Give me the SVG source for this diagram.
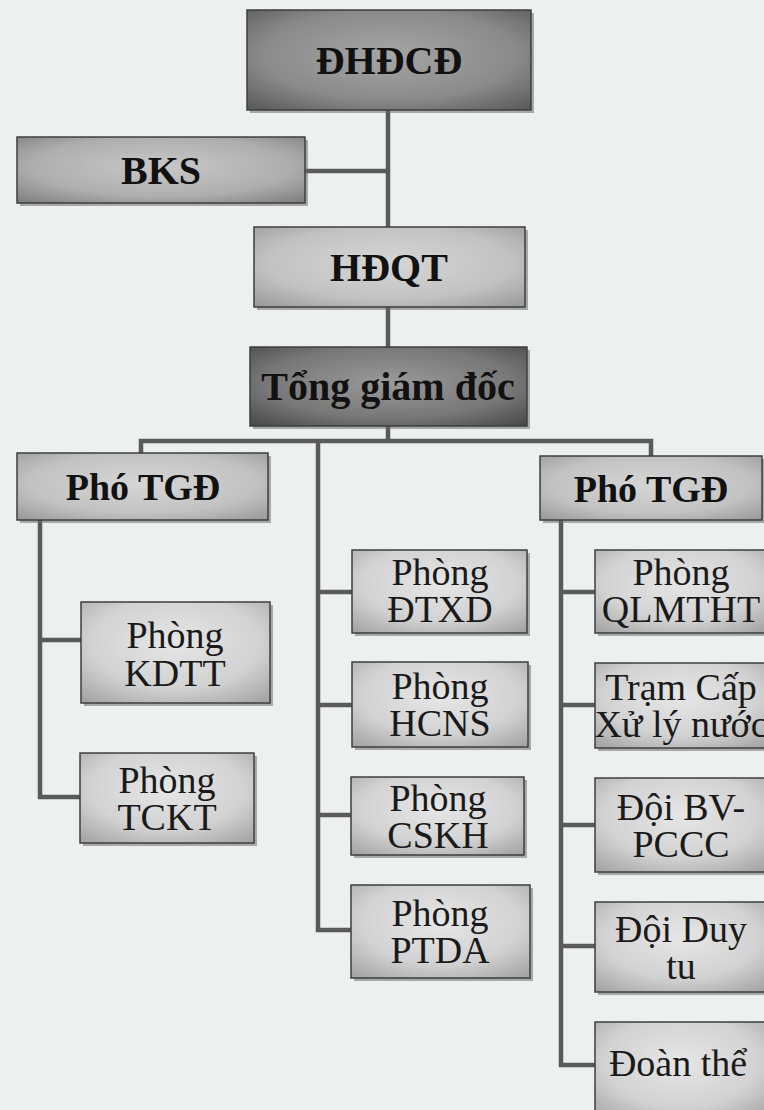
<svg xmlns="http://www.w3.org/2000/svg" width="764" height="1110" viewBox="0 0 764 1110">
<defs>
<radialGradient id="gDark" cx="0.5" cy="0.45" r="0.75">
<stop offset="0" stop-color="#a6a6a6"/><stop offset="0.6" stop-color="#8a8a8a"/><stop offset="1" stop-color="#555"/>
</radialGradient>
<radialGradient id="gDarker" cx="0.5" cy="0.45" r="0.75">
<stop offset="0" stop-color="#9a9a9a"/><stop offset="0.6" stop-color="#777"/><stop offset="1" stop-color="#454545"/>
</radialGradient>
<radialGradient id="gMid" cx="0.5" cy="0.45" r="0.75">
<stop offset="0" stop-color="#c8c8c8"/><stop offset="0.6" stop-color="#aeaeae"/><stop offset="1" stop-color="#7a7a7a"/>
</radialGradient>
<radialGradient id="gLight" cx="0.5" cy="0.45" r="0.75">
<stop offset="0" stop-color="#d6d6d6"/><stop offset="0.6" stop-color="#c2c2c2"/><stop offset="1" stop-color="#969696"/>
</radialGradient>
<radialGradient id="gPale" cx="0.5" cy="0.4" r="0.75">
<stop offset="0" stop-color="#e6e6e6"/><stop offset="0.6" stop-color="#d2d2d2"/><stop offset="1" stop-color="#a4a4a4"/>
</radialGradient>
</defs>
<style>
.bg{fill:#edf0f1}
.sh{fill:#6e6e6e;opacity:0.55}
.bx{stroke:#3e3e3e;stroke-width:1.5}
.dark{fill:url(#gDark)}
.darker{fill:url(#gDarker)}
.mid{fill:url(#gMid)}
.light{fill:url(#gLight)}
.pale{fill:url(#gPale)}
.tb{font-family:"Liberation Serif","Times New Roman",serif;font-weight:bold;font-size:40px;fill:#111;text-anchor:middle}
.tr{font-family:"Liberation Serif","Times New Roman",serif;font-size:38px;fill:#1a1a1a;text-anchor:middle}
.ln{fill:none;stroke:#5a5a5a;stroke-width:4.5;stroke-linejoin:miter}
</style>
<rect class="bg" x="0" y="0" width="764" height="1110"/>

<g id="connectors">
<path class="ln" d="M388,110 V227"/>
<path class="ln" d="M305,171 H388"/>
<path class="ln" d="M388,307 V347"/>
<path class="ln" d="M388,426 V441"/>
<path class="ln" d="M141,453 V441 H651 V456"/>
<path class="ln" d="M318,441 V930 H351"/>
<path class="ln" d="M318,592 H352"/>
<path class="ln" d="M318,705 H352"/>
<path class="ln" d="M318,815 H351"/>
<path class="ln" d="M40,520 V797 H80"/>
<path class="ln" d="M40,640 H81"/>
<path class="ln" d="M561,520 V1065 H595"/>
<path class="ln" d="M561,592 H595"/>
<path class="ln" d="M561,705 H595"/>
<path class="ln" d="M561,825 H595"/>
<path class="ln" d="M561,946 H595"/>
</g>

<g id="dhdcd">
<rect class="sh" x="250" y="13" width="284" height="100"/>
<rect class="bx dark" x="247" y="10" width="284" height="100"/>
<text class="tb" x="389" y="74">ĐHĐCĐ</text>
</g>
<g id="bks">
<rect class="sh" x="20" y="140" width="288" height="66"/>
<rect class="bx mid" x="17" y="137" width="288" height="66"/>
<text class="tb" x="161" y="184">BKS</text>
</g>
<g id="hdqt">
<rect class="sh" x="257" y="230" width="271" height="80"/>
<rect class="bx light" x="254" y="227" width="271" height="80"/>
<text class="tb" x="389" y="281">HĐQT</text>
</g>
<g id="tgd">
<rect class="sh" x="253" y="350" width="277" height="79"/>
<rect class="bx darker" x="250" y="347" width="277" height="79"/>
<text class="tb" x="388" y="400">Tổng giám đốc</text>
</g>
<g id="ptgd-left">
<rect class="sh" x="20" y="456" width="251" height="67"/>
<rect class="bx light" x="17" y="453" width="251" height="67"/>
<text class="tb" x="143" y="500" style="font-size:38px">Phó TGĐ</text>
</g>
<g id="ptgd-right">
<rect class="sh" x="543" y="459" width="222" height="64"/>
<rect class="bx light" x="540" y="456" width="222" height="64"/>
<text class="tb" x="651" y="502" style="font-size:38px">Phó TGĐ</text>
</g>

<g id="kdtt">
<rect class="sh" x="84" y="605" width="189" height="101"/>
<rect class="bx pale" x="81" y="602" width="189" height="101"/>
<text class="tr" x="175" y="648">Phòng</text>
<text class="tr" x="175" y="686">KDTT</text>
</g>
<g id="tckt">
<rect class="sh" x="83" y="756" width="174" height="90"/>
<rect class="bx pale" x="80" y="753" width="174" height="90"/>
<text class="tr" x="167" y="793">Phòng</text>
<text class="tr" x="167" y="830">TCKT</text>
</g>

<g id="dtxd">
<rect class="sh" x="355" y="553" width="175" height="83"/>
<rect class="bx pale" x="352" y="550" width="175" height="83"/>
<text class="tr" x="440" y="585">Phòng</text>
<text class="tr" x="440" y="622">ĐTXD</text>
</g>
<g id="hcns">
<rect class="sh" x="355" y="665" width="176" height="85"/>
<rect class="bx pale" x="352" y="662" width="176" height="85"/>
<text class="tr" x="440" y="699">Phòng</text>
<text class="tr" x="440" y="736">HCNS</text>
</g>
<g id="cskh">
<rect class="sh" x="354" y="780" width="173" height="78"/>
<rect class="bx pale" x="351" y="777" width="173" height="78"/>
<text class="tr" x="438" y="811">Phòng</text>
<text class="tr" x="438" y="848">CSKH</text>
</g>
<g id="ptda">
<rect class="sh" x="354" y="888" width="179" height="93"/>
<rect class="bx pale" x="351" y="885" width="179" height="93"/>
<text class="tr" x="440" y="926">Phòng</text>
<text class="tr" x="440" y="963">PTDA</text>
</g>

<g id="qlmtht">
<rect class="sh" x="598" y="553" width="172" height="83"/>
<rect class="bx pale" x="595" y="550" width="172" height="83"/>
<text class="tr" x="681" y="585">Phòng</text>
<text class="tr" x="681" y="622">QLMTHT</text>
</g>
<g id="tram">
<rect class="sh" x="598" y="666" width="172" height="85"/>
<rect class="bx pale" x="595" y="663" width="172" height="85"/>
<text class="tr" x="681" y="700">Trạm Cấp</text>
<text class="tr" x="681" y="737">Xử lý nước</text>
</g>
<g id="doibv">
<rect class="sh" x="598" y="781" width="172" height="94"/>
<rect class="bx pale" x="595" y="778" width="172" height="94"/>
<text class="tr" x="681" y="820">Đội BV-</text>
<text class="tr" x="681" y="857">PCCC</text>
</g>
<g id="doiduytu">
<rect class="sh" x="598" y="905" width="172" height="90"/>
<rect class="bx pale" x="595" y="902" width="172" height="90"/>
<text class="tr" x="681" y="942">Đội Duy</text>
<text class="tr" x="681" y="979">tu</text>
</g>
<g id="doanthe">
<rect class="sh" x="598" y="1025" width="172" height="100"/>
<rect class="bx pale" x="595" y="1022" width="172" height="100"/>
<text class="tr" x="678" y="1076">Đoàn thể</text>
</g>
</svg>
